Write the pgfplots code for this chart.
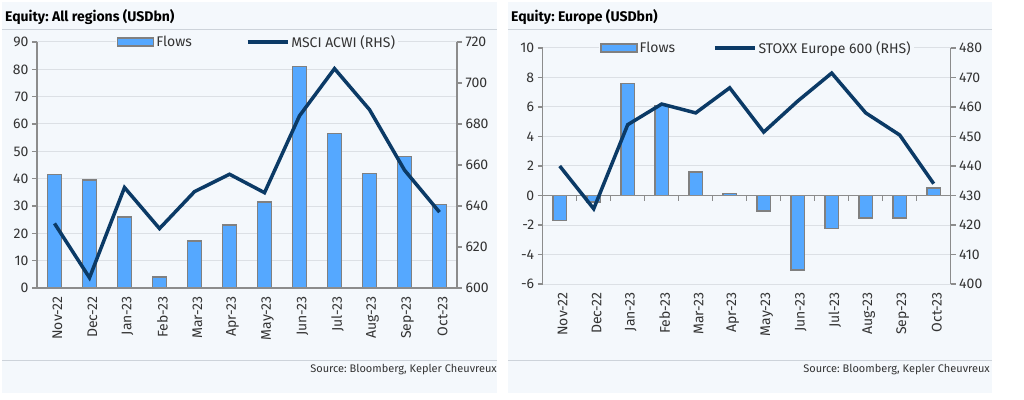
\documentclass[border=0pt]{standalone}
\usepackage{pgfplots}
\usepackage{pgfplotstable}
\pgfplotsset{compat=1.18}
\usepackage{fontspec}
\setmainfont{Fira Sans}
\frenchspacing
\definecolor{panelbg}{HTML}{F4F8FC}
\definecolor{barblue}{HTML}{55A8FF}
\definecolor{bargray}{HTML}{808080}
\definecolor{navy}{HTML}{0B3A66}
\definecolor{axgray}{HTML}{8C8C8C}
\definecolor{gridc}{HTML}{DCE0E5}
\definecolor{txt}{HTML}{333333}
\definecolor{sepc}{HTML}{CDD3DA}

\pgfplotstableread{
x flows idx
0 41.5 631.5
1 39.5 605
2 26 649
3 4 629
4 17.2 647
5 23 655.5
6 31.5 646.5
7 81 684
8 56.5 707
9 42 687
10 48 657.5
11 30.5 637
}\allreg

\pgfplotstableread{
x flows idx
0 -1.7 440
1 -0.45 425.5
2 7.6 454
3 6.1 461
4 1.6 458
5 0.12 466.5
6 -1.05 451.5
7 -5.05 462
8 -2.25 471.5
9 -1.52 458
10 -1.52 450.5
11 0.5 434
}\europe

\pgfplotsset{
  base/.style={
    scale only axis, anchor=south west, xmin=-0.5, xmax=11.5,
    tick align=outside, major tick length=5pt,
    tick label style={font=\fontsize{14}{16}\selectfont, text=txt},
    /pgf/number format/assume math mode=true,
    y axis line style={axgray, line width=1.3pt},
    ytick style={axgray, line width=1.3pt},
  },
  prim/.style={base,
    axis y line*=left, axis x line*=bottom, x axis line style={draw=none},
    xtick={0,...,11}, xtick style={draw=none},
    xticklabels={Nov-22,Dec-22,Jan-23,Feb-23,Mar-23,Apr-23,May-23,Jun-23,Jul-23,Aug-23,Sep-23,Oct-23},
    xticklabel style={rotate=90, anchor=east, yshift=-3pt},
    ymajorgrids, grid style={gridc, line width=1pt},
    legend columns=2,
    legend style={draw=none, fill=panelbg, font=\fontsize{14}{16}\selectfont, text=txt,
      at={(axis description cs:0.524,1)}, anchor=center, inner sep=1pt},
    legend cell align=left,
  },
  sec/.style={base, axis y line*=right, axis x line=none, yticklabel style={anchor=west}},
  flowbar/.style={ybar, bar width=13.5pt, fill=barblue, draw=bargray, line width=1.3pt,
    legend image code/.code={\draw[fill=barblue, draw=bargray, line width=1.3pt] (0pt,-4pt) rectangle (36pt,4pt);}},
  idxline/.style={navy, line width=3.5pt, no markers},
}

\begin{document}
\begin{tikzpicture}[x=1pt,y=1pt]
\fill[white] (0,0) rectangle (1024,399);
% panels
\fill[panelbg] (2,6) rectangle (497,397);
\fill[panelbg] (508,6) rectangle (992,397);
\draw[sepc, line width=1pt] (2,369) -- (497,369);
\draw[sepc, line width=1pt] (508,369) -- (992,369);
\draw[sepc, line width=1pt] (2,39) -- (497,39);
\draw[sepc, line width=1pt] (508,39) -- (992,39);
\node[anchor=base west, font=\bfseries\fontsize{14}{16}\selectfont, text=black, inner sep=0] at (5,377) {Equity: All regions (USDbn)};
\node[anchor=base west, font=\bfseries\fontsize{14}{16}\selectfont, text=black, inner sep=0] at (511,377) {Equity: Europe (USDbn)};
\node[anchor=base east, font=\fontsize{11}{13}\selectfont, text=txt, inner sep=0] at (497,26.5) {Source: Bloomberg, Kepler Cheuvreux};
\node[anchor=base east, font=\fontsize{11}{13}\selectfont, text=txt, inner sep=0] at (990,26.5) {Source: Bloomberg, Kepler Cheuvreux};

% ---- left chart
\begin{axis}[prim, at={(37pt,111pt)}, width=420pt, height=246pt,
  ymin=0, ymax=90, ytick={0,10,...,90},
  legend style={/tikz/every even column/.append style={column sep=52pt}}]
\addplot[flowbar] table[x=x, y=flows] {\allreg};
\addlegendentry{Flows}
\addlegendimage{legend image code/.code={\draw[navy, line width=3.5pt] (0pt,0pt) -- (40pt,0pt);}}
\addlegendentry{MSCI ACWI (RHS)}
\draw[axgray, line width=1.3pt] (axis cs:-0.5,0) -- (axis cs:11.5,0);
\pgfplotsinvokeforeach{-0.5,0.5,1.5,2.5,3.5,4.5,5.5,6.5,7.5,8.5,9.5,10.5,11.5}{
  \draw[axgray, line width=1.3pt] (axis cs:#1,0) -- ++(0pt,-5pt);}
\end{axis}
\begin{axis}[sec, at={(37pt,111pt)}, width=420pt, height=246pt,
  ymin=600, ymax=720, ytick={600,620,...,720}]
\addplot[idxline] table[x=x, y=idx] {\allreg};
\end{axis}

% ---- right chart
\begin{axis}[prim, at={(542.7pt,115pt)}, width=408pt, height=236pt,
  ymin=-6, ymax=10, ytick={-6,-4,...,10},
  legend style={/tikz/every even column/.append style={column sep=36pt}}]
\addplot[flowbar] table[x=x, y=flows] {\europe};
\addlegendentry{Flows}
\addlegendimage{legend image code/.code={\draw[navy, line width=3.5pt] (0pt,0pt) -- (40pt,0pt);}}
\addlegendentry{STOXX Europe 600 (RHS)}
\draw[axgray, line width=1.3pt] (axis cs:-0.5,0) -- (axis cs:11.5,0);
\pgfplotsinvokeforeach{-0.5,0.5,1.5,2.5,3.5,4.5,5.5,6.5,7.5,8.5,9.5,10.5,11.5}{
  \draw[axgray, line width=1.3pt] (axis cs:#1,0) -- ++(0pt,-5pt);}
\end{axis}
\begin{axis}[sec, at={(542.7pt,115pt)}, width=408pt, height=236pt,
  ymin=400, ymax=480, ytick={400,410,...,480}]
\addplot[idxline] table[x=x, y=idx] {\europe};
\end{axis}
\end{tikzpicture}
\end{document}
